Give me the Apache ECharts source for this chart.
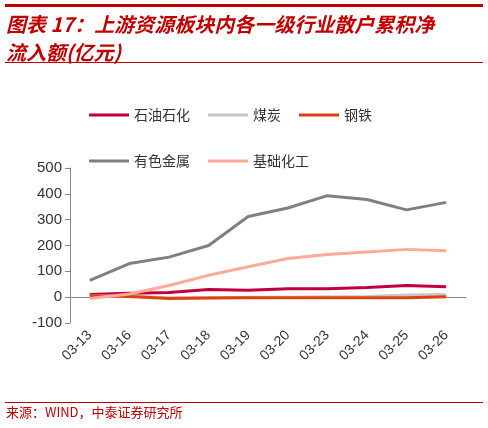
<!DOCTYPE html><html><head><meta charset="utf-8"><script src="https://cdn.jsdelivr.net/npm/echarts@6/dist/echarts.min.js"></script>
<style>body{margin:0}#c{width:488px;height:428px}</style></head><body><div id="c"></div><script>
const categories=['03-13','03-16','03-17','03-18','03-19','03-20','03-23','03-24','03-25','03-26'];
const petro=[10,15,18,30,27,33,33,37,45,40];
const coal=[5,5,-2,-2,0,0,2,3,8,10];
const steel=[5,3,-5,-3,-2,-2,-2,-2,-2,2];
const metals=[65,130,155,200,312,345,393,378,338,367];
const chem=[-5,12,45,85,118,150,165,175,185,180];
const names=['石油石化','煤炭','钢铁','有色金属','基础化工'];
const colors=['#c0003c','#c8c8c8','#e04010','#808080','#ffaa99'];
const data=[petro,coal,steel,metals,chem];
const c=echarts.init(document.getElementById('c'));
const f='"Noto Sans CJK SC",sans-serif';
c.setOption({
graphic:[
{type:'rect',shape:{x:5,y:4,width:478,height:3},style:{fill:'#c00000'}},
{type:'text',left:6,top:10,style:{text:'图表 17：上游资源板块内各一级行业散户累积净\n流入额(亿元)',font:'italic bold 20px '+f,fill:'#c00000',lineHeight:28}},
{type:'rect',shape:{x:5,y:62,width:478,height:1},style:{fill:'#c00000'}},
{type:'rect',shape:{x:5,y:402,width:478,height:1},style:{fill:'#c00000'}},
{type:'text',left:6,top:406,style:{text:'来源：WIND，中泰证券研究所',font:'13px '+f,fill:'#c00000'}}
],
legend:{top:96,left:84,width:330,itemWidth:40,itemHeight:3,itemGap:18,icon:'rect',textStyle:{fontFamily:f,fontSize:14,color:'#333',lineHeight:28},data:names},
grid:{left:70,right:22,top:168,bottom:105},
xAxis:{type:'category',data:categories,axisLine:{onZero:true,lineStyle:{color:'#888'}},axisTick:{lineStyle:{color:'#888'}},axisLabel:{rotate:45,color:'#333',fontSize:14,fontFamily:'Liberation Sans',margin:10}},
yAxis:{type:'value',min:-100,max:500,interval:100,splitLine:{show:false},axisLine:{show:true,lineStyle:{color:'#888'}},axisTick:{show:true,lineStyle:{color:'#888'}},axisLabel:{color:'#333',fontSize:15,fontFamily:'Liberation Sans'}},
series:names.map((n,i)=>({name:n,type:'line',data:data[i],symbol:'none',lineStyle:{width:3,color:colors[i]},itemStyle:{color:colors[i]}}))
});
</script></body></html>
